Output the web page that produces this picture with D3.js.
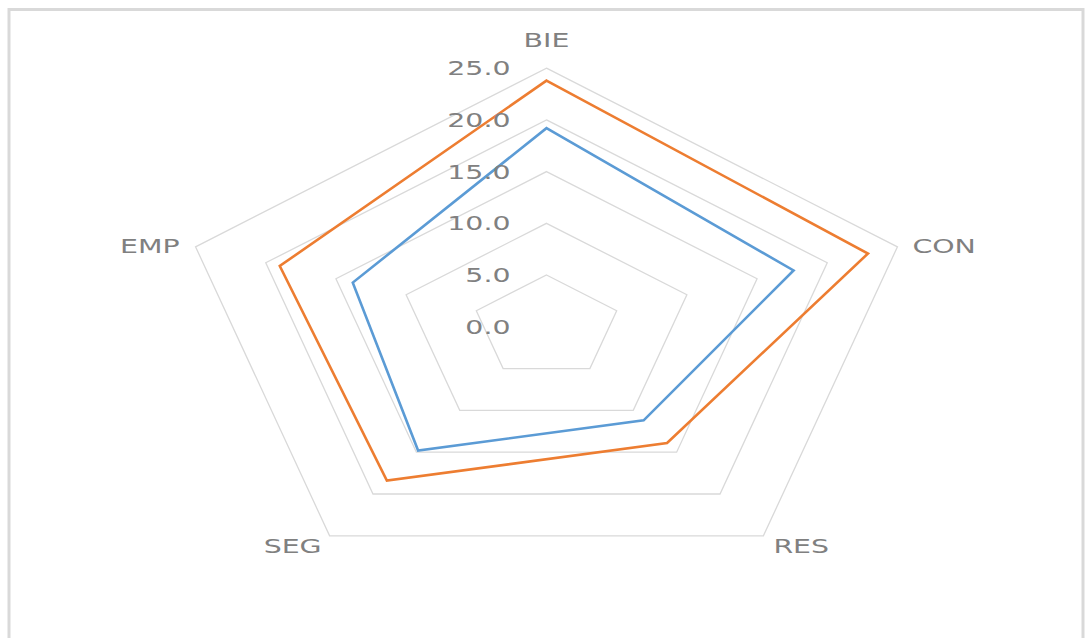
<!DOCTYPE html>
<html>
<head>
<meta charset="utf-8">
<script src="https://cdn.jsdelivr.net/npm/d3@7"></script>
<style>
  html, body { margin: 0; padding: 0; background: #ffffff; }
  svg { display: block; }
</style>
</head>
<body>
<svg id="chart" width="1086" height="638"></svg>
<script>
// ---- data ----
const categories = ["BIE", "CON", "RES", "SEG", "EMP"];
const seriesBlue = [19.2, 17.6, 11.2, 14.8, 13.8];
const seriesOrange = [23.8, 22.9, 13.9, 18.4, 19.0];
const tickValues = [0, 5, 10, 15, 20, 25];
const tickLabels = ["0.0", "5.0", "10.0", "15.0", "20.0", "25.0"];
const seriesColors = ["#5B9BD5", "#ED7D31"];

// ---- layout ----
const svg = d3.select("#chart");
const cx = 546.5, cy = 326.7;
const Rx = 369, Ry = 258.5;
const textScaleX = 1.42;

svg.append("rect")
  .attr("x", 9).attr("y", 9.5)
  .attr("width", 1074).attr("height", 700)
  .attr("fill", "#ffffff")
  .attr("stroke", "#d9d9d9").attr("stroke-width", 3);

const r = d3.scaleLinear().domain([0, 25]).range([0, 1]);
const angle = d3.scalePoint().domain(categories).range([0, 2 * Math.PI * (categories.length - 1) / categories.length]);

function px(cat, v) { return cx + Rx * r(v) * Math.sin(angle(cat)); }
function py(cat, v) { return cy - Ry * r(v) * Math.cos(angle(cat)); }

const line = d3.line().x(d => px(d.cat, d.v)).y(d => py(d.cat, d.v)).curve(d3.curveLinearClosed);

// grid rings
const g = svg.append("g");
tickValues.filter(t => t > 0).forEach(t => {
  g.append("path")
    .attr("d", line(categories.map(c => ({cat: c, v: t}))))
    .attr("fill", "none")
    .attr("stroke", "#d9d9d9")
    .attr("stroke-width", 1.3);
});

// series
[seriesBlue, seriesOrange].forEach((vals, i) => {
  g.append("path")
    .attr("d", line(categories.map((c, j) => ({cat: c, v: vals[j]}))))
    .attr("fill", "none")
    .attr("stroke", seriesColors[i])
    .attr("stroke-width", 2.6)
    .attr("stroke-linejoin", "miter");
});

// tick labels
tickValues.forEach((t, i) => {
  svg.append("text")
    .attr("transform", `translate(${cx - 36},${py(categories[0], t)}) scale(${textScaleX},1)`)
    .attr("text-anchor", "end")
    .attr("dominant-baseline", "central")
    .attr("font-family", "DejaVu Sans")
    .attr("font-size", 20)
    .attr("fill", "#808080")
    .text(tickLabels[i]);
});

// category labels
const labelOffsets = {
  BIE: {dx: 0, dy: -21, anchor: "middle"},
  CON: {dx: 15, dy: 6, anchor: "start"},
  RES: {dx: 10, dy: 17, anchor: "start"},
  SEG: {dx: -8, dy: 17, anchor: "end"},
  EMP: {dx: -16, dy: 6, anchor: "end"}
};
categories.forEach(c => {
  const o = labelOffsets[c];
  svg.append("text")
    .attr("transform", `translate(${px(c, 25) + o.dx},${py(c, 25) + o.dy}) scale(${textScaleX},1)`)
    .attr("text-anchor", o.anchor)
    .attr("font-family", "DejaVu Sans")
    .attr("font-size", 20)
    .attr("fill", "#808080")
    .text(c);
});
</script>
</body>
</html>
